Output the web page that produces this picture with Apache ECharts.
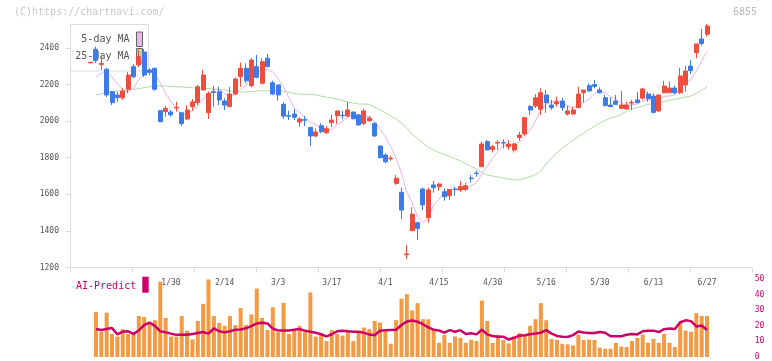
<!DOCTYPE html>
<html><head><meta charset="utf-8">
<script src="https://cdn.jsdelivr.net/npm/echarts@6/dist/echarts.min.js"></script>
<style>html,body{margin:0;padding:0;background:#fff}#c{width:772px;height:361px}</style>
</head><body><div id="c"></div>
<script>
const dates = ["1/8","1/9","1/10","1/14","1/15","1/16","1/17","1/20","1/21","1/22","1/23","1/24","1/27","1/28","1/29","1/30","1/31",
"2/3","2/4","2/5","2/6","2/7","2/10","2/12","2/13","2/14","2/17","2/18","2/19","2/20","2/21","2/25","2/26","2/27","2/28",
"3/3","3/4","3/5","3/6","3/7","3/10","3/11","3/12","3/13","3/14","3/17","3/18","3/19","3/21","3/24","3/25","3/26","3/27","3/28","3/31",
"4/1","4/2","4/3","4/4","4/7","4/8","4/9","4/10","4/11","4/14","4/15","4/16","4/17","4/18","4/21","4/22","4/23","4/24","4/25","4/28","4/30",
"5/1","5/2","5/7","5/8","5/9","5/12","5/13","5/14","5/15","5/16","5/19","5/20","5/21","5/22","5/23","5/26","5/27","5/28","5/29","5/30",
"6/2","6/3","6/4","6/5","6/6","6/9","6/10","6/11","6/12","6/13","6/16","6/17","6/18","6/19","6/20","6/23","6/24","6/25","6/26","6/27"];
const labelDates = ["1/30","2/14","3/3","3/17","4/1","4/15","4/30","5/16","5/30","6/13","6/27"];

const opens = [2318,2393,2310,2284,2161,2143,2128,2174,2298,2307,2378,2280,2289,2057,2052,2050,2072,2046,2012,2079,
2101,2170,2046,2160,2161,2110,2079,2148,2243,2289,2194,2298,2207,2344,2210,2198,2092,2030,2039,1995,
2008,1966,1919,1975,1937,1992,2030,2032,2028,2050,2034,1988,2002,1988,1864,1815,1794,1660,1611,1270,
1401,1445,1629,1472,1651,1642,1614,1592,1629,1624,1627,1689,1716,1751,1888,1846,1880,1884,1860,1842,
1910,1930,2079,2083,2065,2143,2088,2094,2110,2039,2039,2074,2155,2194,2200,2170,2128,2088,2110,2070,
2066,2099,2116,2126,2148,2137,2056,2155,2155,2181,2155,2198,2301,2374,2449,2475];
const closes = [2322,2331,2316,2143,2101,2128,2165,2252,2243,2352,2252,2267,2174,1997,2070,2035,2075,1987,2061,2105,
2188,2252,2152,2157,2116,2088,2148,2230,2289,2221,2334,2240,2325,2298,2148,2143,2028,2027,2021,2012,
2005,1919,1941,1942,1959,2006,2056,2030,2061,2013,1979,2056,2017,1919,1800,1778,1798,1688,1514,1274,
1492,1414,1542,1624,1636,1656,1587,1627,1626,1642,1647,1686,1714,1875,1843,1860,1884,1880,1875,1875,
1924,2019,2061,2128,2155,2101,2074,2106,2074,2056,2061,2148,2170,2165,2190,2155,2085,2079,2092,2088,
2088,2103,2101,2176,2123,2048,2143,2192,2181,2155,2247,2274,2276,2422,2424,2520];
const lows = [2318,2318,2280,2132,2088,2106,2116,2152,2234,2296,2241,2252,2167,1995,2024,2024,2052,1975,2006,2057,
2088,2170,2012,2079,2088,2061,2079,2143,2188,2207,2185,2234,2201,2294,2143,2112,2012,2006,2006,1970,
1973,1864,1912,1934,1930,1967,1985,2010,2021,2010,1977,1979,1995,1914,1798,1770,1785,1651,1465,1246,
1401,1350,1514,1445,1609,1620,1565,1569,1592,1614,1618,1664,1696,1751,1839,1828,1843,1851,1843,1828,
1892,1920,2034,2071,2034,2046,2061,2079,2057,2030,2034,2070,2101,2161,2180,2152,2079,2079,2088,2070,
2066,2061,2098,2118,2106,2041,2050,2152,2155,2148,2148,2161,2258,2344,2413,2462];
const highs = [2322,2407,2360,2290,2165,2161,2180,2270,2312,2389,2394,2290,2292,2060,2083,2061,2106,2050,2088,2120,
2198,2280,2161,2192,2188,2125,2188,2240,2320,2316,2344,2362,2344,2367,2221,2200,2103,2057,2066,2021,
2028,1966,1961,1988,1974,2034,2056,2056,2105,2052,2039,2067,2028,1992,1866,1824,1810,1706,1636,1323,
1529,1450,1636,1636,1673,1664,1633,1627,1642,1673,1664,1706,1729,1888,1897,1870,1897,1901,1897,1880,
1942,2019,2088,2148,2180,2170,2116,2134,2128,2085,2079,2188,2170,2207,2225,2185,2143,2130,2143,2165,
2106,2116,2161,2183,2161,2152,2143,2221,2216,2194,2292,2303,2334,2422,2504,2531];

const ma5 = [null,2240,2262,2268,2243,2204,2171,2158,2178,2228,2253,2273,2258,2208,2152,2109,2070,2033,2046,2053,
2083,2119,2152,2171,2173,2153,2132,2148,2174,2195,2244,2263,2282,2284,2269,2231,2188,2129,2073,2046,
2019,1997,1980,1964,1953,1953,1981,1999,2022,2033,2028,2028,2025,1997,1954,1914,1862,1797,1716,1610,
1553,1476,1447,1469,1542,1574,1609,1626,1626,1628,1626,1646,1663,1713,1753,1796,1835,1868,1868,1875,
1888,1915,1951,2001,2057,2093,2104,2113,2102,2082,2074,2089,2102,2120,2147,2166,2153,2135,2120,2100,
2086,2090,2094,2111,2118,2110,2118,2136,2137,2144,2184,2210,2227,2275,2329,2383];
const ma25 = [null,2143,2149,2157,2160,2165,2167,2169,2174,2178,2183,2188,2191,2193,2192,2189,2188,2187,2184,2182,
2181,2180,2178,2176,2174,2170,2165,2161,2159,2160,2162,2165,2166,2166,2166,2166,2163,2158,2151,2148,
2147,2147,2144,2137,2131,2126,2121,2113,2105,2099,2094,2093,2092,2077,2061,2046,2028,2012,1990,1962,
1927,1905,1881,1856,1842,1829,1818,1807,1794,1783,1768,1752,1740,1719,1707,1700,1695,1689,1684,1678,
1681,1686,1697,1708,1727,1766,1799,1826,1853,1875,1897,1916,1934,1954,1971,1990,2004,2017,2023,2039,
2053,2066,2075,2083,2092,2096,2102,2107,2114,2120,2125,2132,2137,2151,2170,2187];

const volumes = [null,28.8,16.2,28.4,14.8,13.1,17.9,14.8,14.8,26.3,25.7,21.1,23.6,48.3,25.0,13.1,13.1,26.3,16.9,11.2,
23.1,34.1,49.7,26.3,21.9,20.0,26.3,20.4,31.3,20.6,27.3,43.9,25.0,17.3,31.9,15.9,34.7,14.8,16.9,20.0,
15.9,41.4,13.1,14.3,10.2,17.3,14.8,13.7,16.9,10.2,16.2,18.9,17.9,23.1,22.1,17.9,8.5,23.6,37.4,40.3,
29.9,34.5,24.2,24.2,17.9,9.1,14.3,9.1,13.1,12.3,9.1,11.0,10.2,36.2,23.1,9.1,14.3,10.9,8.7,13.1,
15.4,14.3,20.0,24.2,34.5,23.6,11.6,10.9,8.5,8.1,7.4,14.3,10.9,11.2,10.9,6.0,5.3,5.3,9.1,6.7,
6.4,10.2,12.3,14.3,9.1,11.6,9.1,14.8,9.1,6.4,22.5,16.9,16.2,28.0,26.3,26.3];
const aiPredict = [null,17.9,17.3,17.9,18.6,14.5,16.2,16.5,14.8,17.0,20.4,22.0,20.0,16.5,15.8,15.0,14.2,14.2,14.2,14.8,
15.4,16.0,15.0,18.4,16.5,15.8,16.5,17.5,17.6,18.4,19.8,21.5,22.0,21.5,18.2,17.0,17.0,17.0,17.5,17.9,
16.8,16.2,15.5,14.6,13.2,14.6,16.5,16.9,16.5,16.2,16.2,15.5,14.4,13.9,16.9,17.1,17.3,17.5,20.5,22.8,
23.4,22.6,21.0,19.0,17.5,17.0,15.6,17.2,16.2,17.2,14.8,15.2,14.5,17.5,14.5,13.5,13.0,13.0,11.2,12.3,
13.6,14.0,14.6,15.0,15.6,17.2,15.0,13.5,13.0,12.8,14.0,16.3,15.7,15.4,15.4,16.0,15.5,13.3,13.3,13.3,
14.3,14.8,14.5,16.5,16.9,16.9,16.0,17.8,18.2,18.0,22.3,23.5,23.0,19.6,20.2,17.3];

const priceTicks = [1200,1400,1600,1800,2000,2200,2400];
const rightTicks = [0,10,20,30,40,50];

const candleData = opens.map((o,i)=>[o, closes[i], lows[i], highs[i]]);
const priceMax = Math.max(...highs);
const MONO = "'DejaVu Sans Mono', monospace";

const chart = echarts.init(document.getElementById('c'), null, {renderer:'canvas'});
chart.setOption({
  animation:false,
  grid:[
    {left:70, right:20, top:24, bottom:93.5},
    {left:87.9, right:62.3, top:24, bottom:93.5},
    {left:87.9, right:62.3, top:279, bottom:2.5}
  ],
  xAxis:[
    {type:'value', gridIndex:0, min:0, max:11, interval:1,
     axisLine:{show:true, lineStyle:{color:'#dcdcdc', width:1}},
     axisTick:{show:true, length:5, lineStyle:{color:'#dcdcdc'}},
     axisLabel:{show:false}, splitLine:{show:false}},
    {type:'category', gridIndex:1, data:dates, boundaryGap:true,
     axisLine:{show:false}, axisTick:{show:false}, splitLine:{show:false},
     axisLabel:{interval:(i, v)=>labelDates.indexOf(v) >= 0, margin:10, color:'#555', fontFamily:MONO, fontSize:8, lineHeight:10}},
    {type:'category', gridIndex:2, data:dates, boundaryGap:true, show:false}
  ],
  yAxis:[
    {type:'value', gridIndex:0, min:1200, max:priceMax, interval:200,
     axisLine:{show:true, lineStyle:{color:'#dcdcdc'}},
     axisTick:{show:true, length:5, lineStyle:{color:'#dcdcdc'}, customValues:priceTicks},
     axisLabel:{color:'#555', fontFamily:MONO, fontSize:8, margin:11, customValues:priceTicks,
                formatter:(v)=>String(v)},
     splitLine:{show:false}},
    {type:'value', gridIndex:1, min:1200, max:priceMax, show:false, splitLine:{show:false}},
    {type:'value', gridIndex:2, min:0, max:50, interval:10, position:'right', offset:45,
     axisLine:{show:false}, axisTick:{show:false}, splitLine:{show:false},
     axisLabel:{color:'#cc0066', fontFamily:MONO, fontSize:8, margin:0, customValues:rightTicks,
                formatter:(v)=>String(v)}}
  ],
  graphic:{elements:[
    {type:'text', z:0, style:{text:'(C)https://chartnavi.com/', x:14, y:12.5, textVerticalAlign:'middle', font:"10px 'DejaVu Sans Mono'", fill:'#c8c8c8'}},
    {type:'text', z:0, style:{text:'6855', x:757, y:12.5, textAlign:'right', textVerticalAlign:'middle', font:"10px 'DejaVu Sans Mono'", fill:'#bbbbbb'}},
    {type:'rect', z:0, shape:{x:70.5, y:24.5, width:78, height:46.5}, style:{fill:'#ffffff', stroke:'#dcdcdc', lineWidth:1}},
    {type:'text', z:0, style:{text:'5-day MA', x:129.5, y:39.5, textAlign:'right', textVerticalAlign:'middle', font:"10px 'DejaVu Sans Mono'", fill:'#555'}},
    {type:'text', z:0, style:{text:'25-day MA', x:129.5, y:56.5, textAlign:'right', textVerticalAlign:'middle', font:"10px 'DejaVu Sans Mono'", fill:'#555'}},
    {type:'rect', z:0, shape:{x:136.5, y:32, width:6, height:14.5}, style:{fill:'#e8b6e8', stroke:'#666', lineWidth:1}},
    {type:'rect', z:0, shape:{x:136.5, y:48.5, width:6, height:14.5}, style:{fill:'#b6d9a6', stroke:'#666', lineWidth:1}},
    {type:'text', z:0, style:{text:'AI-Predict', x:76, y:286, textVerticalAlign:'middle', font:"10px 'DejaVu Sans Mono'", fill:'#cc0066'}},
    {type:'rect', z:0, shape:{x:142.3, y:276.7, width:6.4, height:16}, style:{fill:'#cc0066'}}
  ]},
  series:[
    {name:'25-day MA', type:'line', xAxisIndex:1, yAxisIndex:1, data:ma25, symbol:'none', z:2,
     lineStyle:{color:'#b3d9a2', width:1}},
    {name:'5-day MA', type:'line', xAxisIndex:1, yAxisIndex:1, data:ma5, symbol:'none', z:2,
     lineStyle:{color:'#e8b0e8', width:1}},
    {name:'Price', type:'candlestick', xAxisIndex:1, yAxisIndex:1, data:candleData, barWidth:4.5, z:3,
     itemStyle:{color:'#ef4d3e', color0:'#3f7be8', borderColor:'#ef4d3e', borderColor0:'#3f7be8', borderWidth:1}},
    {name:'Volume', type:'bar', xAxisIndex:2, yAxisIndex:2, data:volumes, barWidth:4, z:2,
     itemStyle:{color:'#f29a44'}},
    {name:'AI-Predict', type:'line', xAxisIndex:2, yAxisIndex:2, data:aiPredict, symbol:'none', z:3,
     lineStyle:{color:'#cc0066', width:2.5}}
  ]
});
</script></body></html>
